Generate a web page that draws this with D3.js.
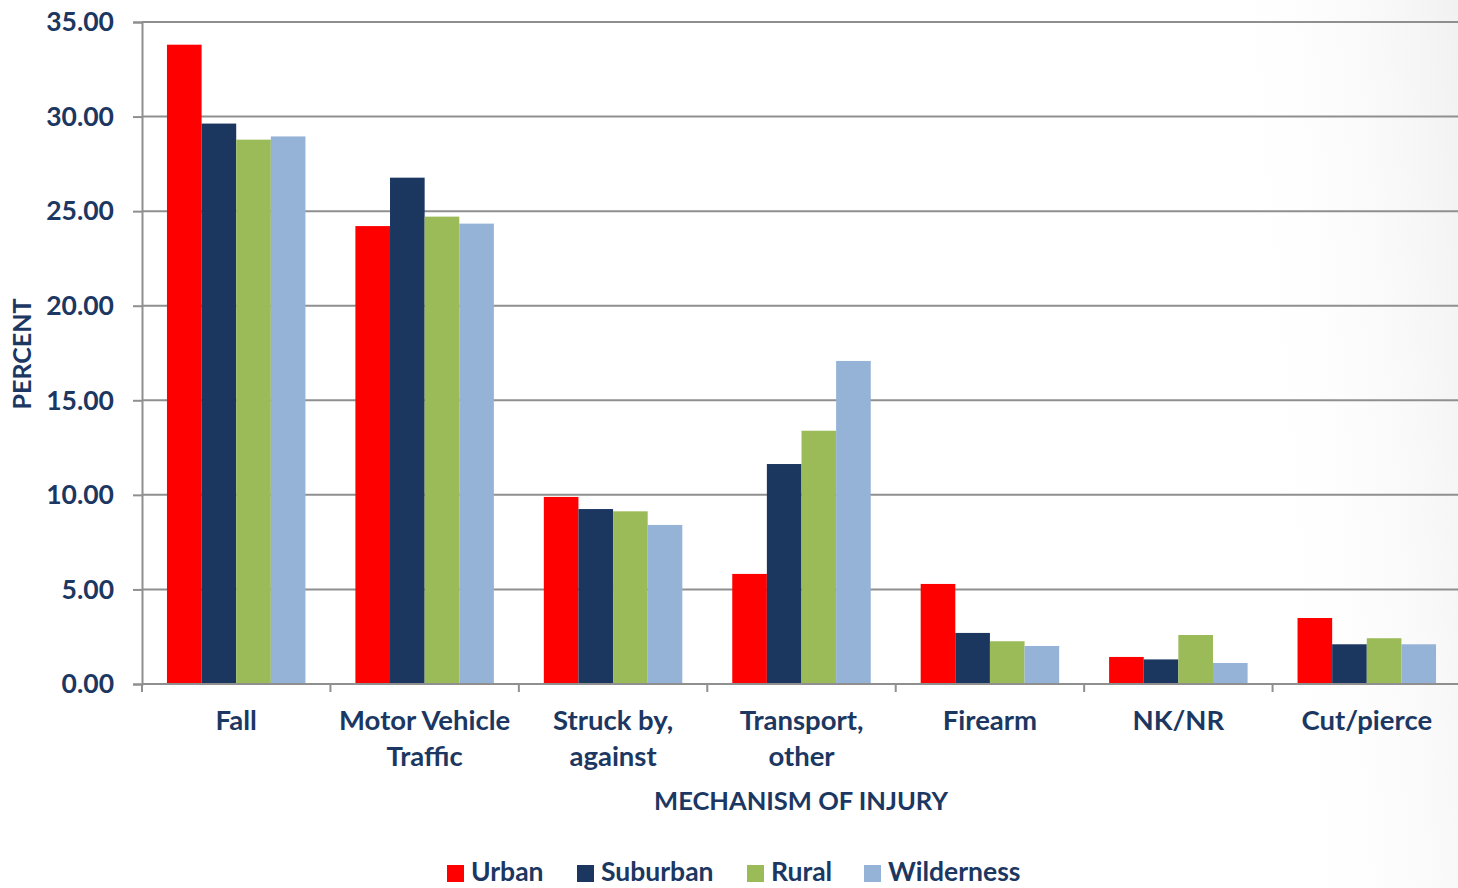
<!DOCTYPE html>
<html>
<head>
<meta charset="utf-8">
<script src="https://cdn.jsdelivr.net/npm/d3@7/dist/d3.min.js"></script>
<style>
  html, body { margin: 0; padding: 0; background: #fff; }
  svg { display: block; }
  text { font-family: Lato, "Open Sans", sans-serif; font-weight: 700; fill: #1b3762; }
</style>
</head>
<body>
<div id="chart"></div>
<script>
// Share of injuries by mechanism, split by setting
const categories = [["Fall"], ["Motor Vehicle", "Traffic"], ["Struck by,", "against"], ["Transport,", "other"], ["Firearm"], ["NK/NR"], ["Cut/pierce"]];
const seriesNames = ["Urban", "Suburban", "Rural", "Wilderness"];
const urban      = [33.80, 24.21, 9.89, 5.82, 5.29, 1.43, 3.49];
const suburban   = [29.63, 26.77, 9.25, 11.63, 2.70, 1.30, 2.10];
const rural      = [28.78, 24.71, 9.13, 13.39, 2.26, 2.59, 2.42];
const wilderness = [28.95, 24.34, 8.41, 17.08, 2.01, 1.11, 2.10];
const yTicks = [0, 5, 10, 15, 20, 25, 30, 35];
const colors = ["#ff0000", "#1b3760", "#9bbb59", "#95b3d7"];

const W = 1458, H = 888;
const margin = { left: 142, right: -3, top: 22, bottom: 204 };
const innerW = W - margin.left - margin.right;
const innerH = H - margin.top - margin.bottom;

const svg = d3.select("#chart").append("svg").attr("width", W).attr("height", H);

// very faint grey fade along the right edge, strongest at the top corner
const defs = svg.append("defs");
const lgFade = defs.append("linearGradient").attr("id", "fade")
  .attr("x1", 0).attr("y1", 0.35).attr("x2", 1).attr("y2", 0);
lgFade.append("stop").attr("offset", 0).attr("stop-color", "#ffffff").attr("stop-opacity", 0);
lgFade.append("stop").attr("offset", 1).attr("stop-color", "#f1f1f1");
svg.append("rect").attr("width", W).attr("height", H).attr("fill", "#fff");
svg.append("rect").attr("x", W - 220).attr("width", 220).attr("height", H).attr("fill", "url(#fade)");

const g = svg.append("g").attr("transform", `translate(${margin.left},${margin.top})`);

const catIdx = d3.range(categories.length);
const x0 = d3.scaleBand().domain(catIdx).range([0, innerW]).paddingInner(0.265).paddingOuter(0.1325);
const x1 = d3.scaleBand().domain(d3.range(seriesNames.length)).range([0, x0.bandwidth()]);
const y = d3.scaleLinear().domain([0, 35]).range([innerH, 0]);

// horizontal gridlines
g.append("g").selectAll("line").data(yTicks.filter(t => t > 0)).join("line")
  .attr("x1", 0).attr("x2", innerW)
  .attr("y1", d => y(d)).attr("y2", d => y(d))
  .attr("stroke", "#8f8f8f").attr("stroke-width", 2);

// bars
const series = [urban, suburban, rural, wilderness];
const groups = g.append("g").selectAll("g").data(catIdx).join("g")
  .attr("transform", i => `translate(${x0(i)},0)`);
groups.selectAll("rect").data(i => series.map((s, k) => ({ k, v: s[i] }))).join("rect")
  .attr("x", d => x1(d.k))
  .attr("width", x1.bandwidth())
  .attr("y", d => y(d.v))
  .attr("height", d => innerH - y(d.v))
  .attr("fill", d => colors[d.k]);

// y axis
const yAxis = g.append("g").call(d3.axisLeft(y).tickValues(yTicks).tickFormat(d3.format(".2f")).tickSize(9).tickPadding(19));
yAxis.select(".domain").attr("stroke", "#8f8f8f").attr("stroke-width", 2);
yAxis.selectAll(".tick line").attr("stroke", "#8f8f8f").attr("stroke-width", 2);
yAxis.selectAll(".tick text").style("font-size", "26.5px").attr("dy", "0.33em")
  .style("font-family", "Lato, sans-serif").style("font-weight", 700).attr("fill", "#1b3762");

// x axis with ticks between categories
const xAxisG = g.append("g").attr("transform", `translate(0,${innerH})`);
xAxisG.append("line").attr("x1", 0).attr("x2", innerW).attr("stroke", "#8f8f8f").attr("stroke-width", 2);
const step = x0.step();
xAxisG.selectAll("line.tk").data(d3.range(categories.length + 1)).join("line").attr("class", "tk")
  .attr("x1", i => i * step).attr("x2", i => i * step)
  .attr("y1", 0).attr("y2", 8).attr("stroke", "#8f8f8f").attr("stroke-width", 2);

const labels = xAxisG.selectAll("text.cat").data(catIdx).join("text").attr("class", "cat")
  .attr("text-anchor", "middle")
  .attr("transform", i => `translate(${x0(i) + x0.bandwidth() / 2},46)`)
  .style("font-size", "27.5px");
labels.selectAll("tspan").data(i => categories[i]).join("tspan")
  .attr("x", 0).attr("dy", (d, j) => j === 0 ? 0 : 36).text(d => d);

// axis titles
svg.append("text").attr("x", 801).attr("y", 810).attr("text-anchor", "middle")
  .style("font-size", "25.5px").text("MECHANISM OF INJURY");
svg.append("text").attr("transform", "translate(31,354) rotate(-90)").attr("text-anchor", "middle")
  .style("font-size", "25px").text("PERCENT");

// legend
const legendX = [447, 577, 747, 864];
const lg = svg.append("g").selectAll("g").data(seriesNames).join("g")
  .attr("transform", (d, i) => `translate(${legendX[i]},865)`);
lg.append("rect").attr("width", 17).attr("height", 17).attr("fill", (d, i) => colors[i]);
lg.append("text").attr("x", 24).attr("y", 16).style("font-size", "26.5px").text(d => d);
</script>
</body>
</html>
